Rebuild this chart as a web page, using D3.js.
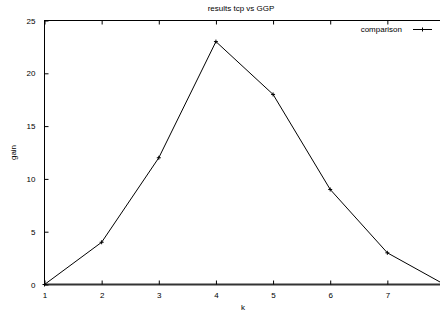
<!DOCTYPE html>
<html><head><meta charset="utf-8">
<script src="https://cdn.jsdelivr.net/npm/d3@7"></script>
<style>body{margin:0;background:#fff;overflow:hidden}svg{display:block}text{font-family:"Liberation Sans",Arial,sans-serif;font-size:8px;fill:#000}</style>
</head><body>
<script>
const kValues = [1, 2, 3, 4, 5, 6, 7, 8];
const gainValues = [0, 4, 12, 23, 18, 9, 3, 0];
const xTicks = [1, 2, 3, 4, 5, 6, 7];
const yTicks = [0, 5, 10, 15, 20, 25];
const title = "results tcp vs GGP";
const xLabel = "k";
const yLabel = "gain";
const seriesName = "comparison";

const W = 440, H = 315;
const m = {left: 44.5, right: 444.5, top: 20.5, bottom: 284.5};
const svg = d3.select("body").append("svg").attr("width", W).attr("height", H);
const x = d3.scaleLinear().domain([1, 8]).range([m.left, m.right]);
const y = d3.scaleLinear().domain([0, 25]).range([m.bottom, m.top]);

// border
svg.append("rect").attr("x", m.left).attr("y", m.top).attr("width", m.right - m.left).attr("height", m.bottom - m.top)
  .attr("fill", "none").attr("stroke", "#000").attr("stroke-width", 1);
svg.append("line").attr("x1", m.left).attr("x2", m.right).attr("y1", m.bottom).attr("y2", m.bottom)
  .attr("stroke", "#333").attr("stroke-width", 2);

const tl = 4;
const gx = svg.append("g").attr("transform", `translate(0,${m.bottom})`)
  .call(d3.axisBottom(x).tickValues(xTicks).tickSize(-tl).tickPadding(8).tickFormat(d3.format("d")));
gx.select(".domain").remove();
const gxt = svg.append("g").attr("transform", `translate(0,${m.top})`)
  .call(d3.axisTop(x).tickValues(xTicks).tickSize(-tl).tickFormat(""));
gxt.select(".domain").remove();
const gy = svg.append("g").attr("transform", `translate(${m.left},0)`)
  .call(d3.axisLeft(y).tickValues(yTicks).tickSize(-tl).tickPadding(9).tickFormat(d3.format("d")));
gy.select(".domain").remove();
const gyr = svg.append("g").attr("transform", `translate(${m.right},0)`)
  .call(d3.axisRight(y).tickValues(yTicks).tickSize(-tl).tickFormat(""));
gyr.select(".domain").remove();
svg.selectAll(".tick line").attr("stroke", "#000");
svg.selectAll(".tick text").attr("font-size", 8).attr("font-family", "Liberation Sans, Arial, sans-serif");

svg.append("text").attr("x", 241).attr("y", 10.5).attr("text-anchor", "middle").text(title);
svg.append("text").attr("x", 243).attr("y", 310).attr("text-anchor", "middle").text(xLabel);
svg.append("text").attr("transform", `translate(15.5,${(m.top + m.bottom) / 2}) rotate(-90)`).attr("text-anchor", "middle").text(yLabel);

const data = kValues.map((k, i) => ({k, g: gainValues[i]}));
svg.append("path").datum(data)
  .attr("d", d3.line().x(d => x(d.k)).y(d => y(d.g)))
  .attr("fill", "none").attr("stroke", "#000").attr("stroke-width", 1);
const mark = (g, cx, cy) => {
  g.append("line").attr("x1", cx - 2).attr("x2", cx + 2).attr("y1", cy).attr("y2", cy).attr("stroke", "#000").attr("stroke-width", 1);
  g.append("line").attr("x1", cx).attr("x2", cx).attr("y1", cy - 2).attr("y2", cy + 2).attr("stroke", "#000").attr("stroke-width", 1);
};
const pg = svg.append("g");
data.forEach(d => mark(pg, x(d.k), y(d.g)));

svg.append("text").attr("x", 402).attr("y", 32).attr("text-anchor", "end").text(seriesName);
svg.append("line").attr("x1", 413).attr("x2", 432).attr("y1", 29.5).attr("y2", 29.5).attr("stroke", "#000").attr("stroke-width", 1);
mark(svg, 422.5, 29.5);
</script>
</body></html>
